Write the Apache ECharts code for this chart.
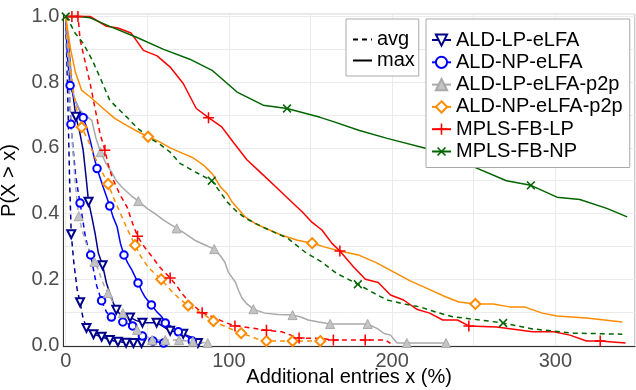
<!DOCTYPE html>
<html>
<head>
<meta charset="utf-8">
<script src="https://cdn.jsdelivr.net/npm/echarts@6/dist/echarts.min.js"></script>
<style>
html,body{margin:0;padding:0;background:#fff;}
#chart{width:636px;height:390px;}
</style>
</head>
<body>
<div id="chart"></div>
<script>
// ---- Data ----
const seriesNames = ['ALD-LP-eLFA', 'ALD-NP-eLFA', 'ALD-LP-eLFA-p2p', 'ALD-NP-eLFA-p2p', 'MPLS-FB-LP', 'MPLS-FB-NP'];
const variantNames = ['avg', 'max'];
const xTickLabels = [0, 100, 200, 300];
const yTickLabels = [0, 0.2, 0.4, 0.6, 0.8, 1.0];

// ALD-LP-eLFA
const aldLpMax = [[0,1],[2,0.9],[4,0.78],[6.2,0.695],[8.5,0.65],[10.7,0.593],[12.5,0.51],[14,0.436],[16,0.39],[18,0.34],[20,0.28],[22.6,0.243],[25,0.188],[27,0.158],[29,0.13],[31,0.107],[34,0.09],[39.4,0.084],[43,0.075],[47,0.068],[55.7,0.068],[60,0.055],[64,0.043],[68,0.04],[72,0.034],[77,0.024],[81,0.006]];
const aldLpMaxMarks = [6.2,14,22.6,31,39.4,47,55.7,64,72,81];
const aldLpAvg = [[0,1],[0.8,0.85],[1.6,0.68],[2.4,0.5],[3.4,0.337],[5,0.25],[7,0.17],[8.8,0.13],[10.5,0.085],[12.7,0.052],[17,0.033],[22,0.025],[27,0.015],[32,0.01],[37,0.007],[41.5,0.006],[46.5,0.006]];
const aldLpAvgMarks = [3.4,8.8,12.7,17,22,27,32,37,41.5,46.5];

// ALD-NP-eLFA
const aldNpMax = [[0,1],[1,0.88],[2.7,0.79],[5.7,0.745],[8,0.72],[10.7,0.692],[13,0.66],[15,0.623],[17,0.58],[19.2,0.537],[23,0.48],[27,0.423],[29,0.39],[31.5,0.36],[33.5,0.31],[35.7,0.274],[38,0.25],[40.6,0.228],[44.3,0.189],[46.5,0.165],[48.6,0.146],[52.5,0.122],[56,0.1],[59,0.085],[61,0.067],[66,0.052],[69,0.04],[73,0.03],[75,0.024],[77.5,0.012],[83.6,0.006]];
const aldNpMaxMarks = [2.7,10.7,19.2,27,35.7,44.3,52.5,61,69,77.5];
const aldNpAvg = [[0,1],[1.2,0.88],[2.2,0.77],[3.2,0.672],[4.5,0.6],[6,0.52],[7.5,0.47],[8.8,0.432],[10.5,0.38],[12,0.33],[13.5,0.3],[15.3,0.274],[17,0.23],[19,0.18],[22,0.135],[25,0.1],[28,0.085],[31,0.078],[35,0.07],[38,0.065],[41,0.058],[44,0.04],[47,0.027],[50,0.018],[53.5,0.012],[60,0.006]];
const aldNpAvgMarks = [3.2,8.8,15.3,22,28,35,41,47,53.5,60];

// ALD-LP-eLFA-p2p
const aldLpP2pMax = [[0,1],[2,0.88],[4,0.78],[6,0.74],[8.8,0.714],[12,0.7],[16,0.684],[18.5,0.63],[21.4,0.587],[25,0.55],[28.5,0.523],[31,0.5],[34.5,0.48],[40,0.455],[44.5,0.438],[50,0.415],[54.7,0.4],[60,0.38],[68,0.355],[73,0.34],[79,0.319],[85,0.305],[91,0.292],[95,0.27],[97.5,0.252],[99.6,0.222],[102,0.205],[104,0.191],[106,0.165],[108,0.143],[111,0.125],[115,0.109],[122,0.097],[130,0.093],[139,0.091],[144,0.085],[148.6,0.076],[155,0.07],[162,0.064],[185,0.064],[191,0.05],[195,0.035],[199,0.03],[203,0.006],[209,0.006],[233,0.006]];
const aldLpP2pMaxMarks = [21.4,44.5,68,91,115,139,162,185,209,233];
const aldLpP2pAvg = [[0,1],[2,0.8],[4,0.62],[6,0.48],[8,0.392],[10,0.35],[12.5,0.31],[15,0.28],[17.6,0.253],[20,0.23],[22,0.2],[24,0.175],[26,0.158],[29,0.13],[32,0.11],[35,0.097],[38,0.085],[40,0.07],[43.7,0.046],[47,0.035],[50,0.025],[53,0.015],[61,0.015],[69.5,0.015],[78,0.01],[87,0.006]];
const aldLpP2pAvgMarks = [8,17.6,26,35,43.7,53,61,69.5,78,87];

// ALD-NP-eLFA-p2p
const aldNpP2pMax = [[0,1],[3,0.9],[6,0.83],[9.8,0.775],[15,0.755],[23,0.72],[30,0.69],[37.6,0.668],[44,0.65],[50.5,0.634],[57,0.62],[64,0.6],[71,0.585],[78,0.57],[85,0.545],[88,0.53],[90,0.52],[95,0.48],[99,0.46],[102,0.435],[110,0.39],[116,0.37],[122,0.356],[132,0.335],[142,0.319],[151,0.31],[159,0.298],[168,0.286],[180,0.273],[190.5,0.25],[200,0.225],[211,0.195],[221,0.173],[233,0.146],[241,0.131],[251,0.125],[262,0.125],[272,0.116],[281,0.116],[292,0.097],[301,0.088],[319,0.082],[341,0.07]];
const aldNpP2pMaxMarks = [50.5,151,251];
const aldNpP2pAvg = [[0,1],[2,0.9],[4,0.8],[6,0.73],[9.8,0.663],[14,0.62],[18,0.57],[22,0.53],[26,0.49],[30,0.44],[34.5,0.39],[38,0.35],[42.5,0.304],[46,0.27],[50.5,0.237],[54,0.22],[58.5,0.2],[62,0.18],[66,0.158],[70,0.14],[75,0.12],[80,0.105],[84,0.095],[90.5,0.073],[96,0.06],[102,0.047],[107.5,0.036],[114,0.025],[119,0.015],[123,0.012],[139,0.012],[156,0.012]];
const aldNpP2pAvgMarks = [9.8,26,42.5,58.5,75,90.5,107.5,123,139,156];

// MPLS-FB-LP
const mplsLpMax = [[0,1],[7.5,1],[15,1],[25,0.97],[32,0.965],[40,0.95],[47.6,0.897],[56,0.88],[64,0.846],[72,0.796],[80,0.72],[87.5,0.692],[95.6,0.664],[102.7,0.617],[111,0.564],[119,0.527],[129,0.48],[137.5,0.44],[145,0.405],[151,0.373],[157,0.35],[163,0.31],[168,0.286],[176,0.24],[183.6,0.2],[191.5,0.19],[199,0.152],[207,0.137],[215,0.109],[223,0.097],[231,0.076],[240,0.076],[247,0.058],[264,0.055],[286,0.04],[299,0.04],[309,0.03],[319,0.012],[327.5,0.012],[343,0.006]];
const mplsLpMaxMarks = [7.5,87.5,168,247,327.5];
const mplsLpAvg = [[0,1],[3.8,1],[7.6,1],[8.8,0.93],[12,0.86],[15,0.796],[18,0.72],[21,0.644],[24,0.593],[26,0.55],[28.5,0.51],[33,0.46],[37.6,0.42],[41,0.37],[44,0.331],[48,0.3],[53,0.268],[58,0.235],[64,0.204],[68,0.18],[71,0.158],[76,0.13],[83.6,0.098],[88,0.09],[91.6,0.082],[98,0.068],[103.7,0.058],[114,0.052],[123,0.045],[132.5,0.04],[138,0.03],[143,0.021],[157,0.02],[164,0.015],[183.5,0.015],[196,0.015],[199,0.005]];
const mplsLpAvgMarks = [3.8,24,44,64,83.6,103.7,123,143,164,183.5];

// MPLS-FB-NP
const mplsNpMax = [[0,1],[8,1],[15,0.996],[27,0.97],[43.7,0.936],[60,0.9],[76,0.87],[90,0.835],[105,0.77],[121,0.73],[135.6,0.72],[155.9,0.693],[164,0.68],[180,0.653],[197,0.629],[221,0.598],[245,0.553],[270,0.5],[285,0.486],[301,0.45],[315,0.443],[331.5,0.416],[344,0.39]];
const mplsNpMaxMarks = [135.6,285];
const mplsNpAvg = [[0,1],[2.6,0.98],[5.7,0.95],[10.7,0.918],[16,0.87],[21,0.815],[27,0.745],[32,0.72],[37.6,0.693],[44,0.66],[51.6,0.63],[58,0.61],[64,0.587],[70,0.553],[80,0.525],[89.5,0.5],[94,0.47],[99,0.435],[104,0.41],[110,0.386],[122,0.356],[136,0.325],[146.6,0.283],[157,0.252],[166,0.218],[179,0.185],[188,0.16],[197,0.137],[207,0.125],[217,0.116],[227,0.1],[237,0.086],[254,0.076],[268,0.067],[286,0.049],[311,0.036],[341,0.033]];
const mplsNpAvgMarks = [0,89.5,179,268];

// ---- Styles ----
const FONT = '"Liberation Sans", Arial, sans-serif';
const plusPath = 'path://M4.3,0H5.7V4.3H10V5.7H5.7V10H4.3V5.7H0V4.3H4.3Z';
const styles = [
  {color:'#00008B', symbol:'emptyTriangle', size:8, rotate:180},
  {color:'#0000FF', symbol:'emptyCircle', size:7.5, rotate:0},
  {color:'#A9A9A9', symbol:'triangle', size:9, rotate:0, fill:'#C4C4C4'},
  {color:'#FF8C00', symbol:'emptyDiamond', size:10, rotate:0},
  {color:'#FF0000', symbol:plusPath, size:11, rotate:0},
  {color:'#006400', symbol:plusPath, size:11, rotate:45}
];
const curves = [
  [aldLpMax, aldLpMaxMarks, aldLpAvg, aldLpAvgMarks],
  [aldNpMax, aldNpMaxMarks, aldNpAvg, aldNpAvgMarks],
  [aldLpP2pMax, aldLpP2pMaxMarks, aldLpP2pAvg, aldLpP2pAvgMarks],
  [aldNpP2pMax, aldNpP2pMaxMarks, aldNpP2pAvg, aldNpP2pAvgMarks],
  [mplsLpMax, mplsLpMaxMarks, mplsLpAvg, mplsLpAvgMarks],
  [mplsNpMax, mplsNpMaxMarks, mplsNpAvg, mplsNpAvgMarks]
];

function buildData(pts, marks) {
  return pts.map(p => marks.indexOf(p[0]) >= 0 ? {value: p} : {value: p, symbol: 'none'});
}
function makeSeries(name, pts, marks, st, dashed) {
  const isPath = st.symbol.indexOf('path://') === 0;
  return {
    type: 'line',
    name: name,
    data: buildData(pts, marks),
    symbol: st.symbol,
    symbolSize: st.size,
    symbolRotate: st.rotate,
    showSymbol: true,
    clip: false,
    lineStyle: {color: st.color, width: 1.5, type: dashed ? [5, 4] : 'solid'},
    itemStyle: isPath ? {color: st.color, borderWidth: 0}
      : (st.fill ? {color: st.fill, borderColor: st.color, borderWidth: 1} : {color: st.color, borderWidth: 1.5}),
    emphasis: {disabled: true},
    animation: false
  };
}

const series = [];
seriesNames.forEach((n, i) => {
  const c = curves[i];
  series.push(makeSeries(n + ' (' + variantNames[0] + ')', c[2], c[3], styles[i], true));
  series.push(makeSeries(n, c[0], c[1], styles[i], false));
});
// legend-only series for line types
series.push({type:'line', name: variantNames[0], data: [], symbol:'none', lineStyle:{color:'#000', width:1.5, type:[5,4]}, itemStyle:{color:'#000'}});
series.push({type:'line', name: variantNames[1], data: [], symbol:'none', lineStyle:{color:'#000', width:1.5}, itemStyle:{color:'#000'}});

const near = (v, arr) => arr.some(t => Math.abs(v - t) < 1e-6);

const option = {
  animation: false,
  backgroundColor: '#fff',
  textStyle: {fontFamily: FONT},
  grid: {left: 63.3, right: 1, top: 14.3, bottom: 43.3, show: true, borderColor: '#999', borderWidth: 1,
    backgroundColor: 'transparent', containLabel: false, outerBoundsMode: 'none'},
  xAxis: {
    type: 'value', min: -1.47, max: 348.8, splitNumber: 7, minInterval: 50, maxInterval: 50,
    name: 'Additional entries x (%)', nameLocation: 'middle', nameGap: 21, nameMoveOverlap: false,
    nameTextStyle: {fontSize: 20, color: '#000', fontFamily: FONT},
    axisLine: {show: true, onZero: false, lineStyle: {color: '#333', width: 1}},
    axisTick: {show: false},
    axisLabel: {fontSize: 20, color: '#4d4d4d', margin: 5, fontFamily: FONT,
      formatter: v => near(v, xTickLabels) ? String(Math.round(v)) : ''},
    splitLine: {show: true, lineStyle: {color: '#ebebeb', width: 1}}
  },
  yAxis: {
    type: 'value', min: -0.0052, max: 1.0067, splitNumber: 10, minInterval: 0.1, maxInterval: 0.1,
    name: 'P(X > x)', nameLocation: 'middle', nameGap: 44, nameMoveOverlap: false,
    nameTextStyle: {fontSize: 20, color: '#000', fontFamily: FONT},
    axisLine: {show: true, onZero: false, lineStyle: {color: '#333', width: 1}},
    axisTick: {show: false},
    axisLabel: {fontSize: 20, color: '#4d4d4d', margin: 4, fontFamily: FONT,
      formatter: v => near(v, yTickLabels) ? v.toFixed(1) : ''},
    splitLine: {show: true, lineStyle: {color: '#ebebeb', width: 1}}
  },
  legend: [
    {
      data: variantNames, orient: 'vertical', left: 346, top: 19,
      itemWidth: 19, itemHeight: 14, itemGap: 0,
      padding: [10, 4, 5, 6],
      backgroundColor: '#fff', borderColor: '#aaa', borderWidth: 1,
      itemStyle: {opacity: 0},
      textStyle: {fontSize: 20, color: '#000', lineHeight: 21, fontFamily: FONT},
      selectedMode: false
    },
    {
      data: seriesNames, orient: 'vertical', left: 426, top: 19,
      itemWidth: 19, itemHeight: 14, itemGap: 0.3,
      padding: [10, 7, 5, 5],
      backgroundColor: '#fff', borderColor: '#aaa', borderWidth: 1,
      textStyle: {fontSize: 20, color: '#000', lineHeight: 22, fontFamily: FONT},
      selectedMode: false
    }
  ],
  series: series
};

const chart = echarts.init(document.getElementById('chart'), null, {renderer: 'canvas'});
chart.setOption(option);
</script>
</body>
</html>
